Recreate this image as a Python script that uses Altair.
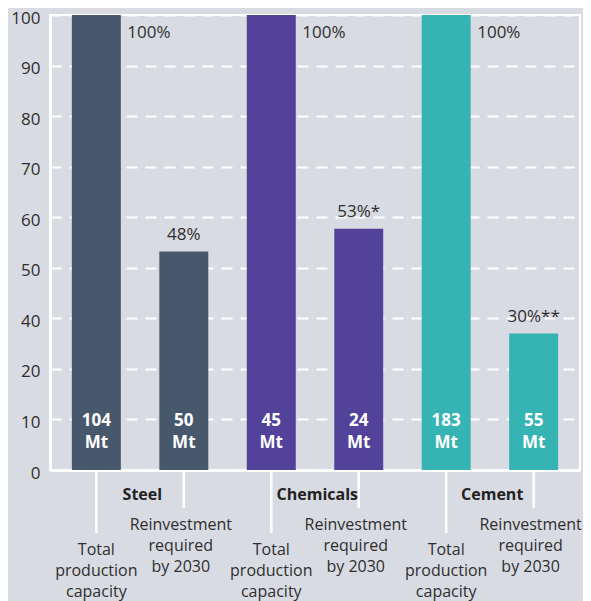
import json
import altair as alt
import pandas as pd

# ---- data ----
sectors = ["Steel", "Steel", "Chemicals", "Chemicals", "Cement", "Cement"]
kinds = ["total", "reinvest", "total", "reinvest", "total", "reinvest"]
shares = [100, 48, 100, 53, 100, 30]
share_labels = ["100%", "48%", "100%", "53%*", "100%", "30%**"]
volumes = [104, 50, 45, 24, 183, 55]
volume_unit = "Mt"
kind_texts = {
    "total": "Total\nproduction\ncapacity",
    "reinvest": "Reinvestment\nrequired\nby 2030",
}
sector_order = ["Steel", "Chemicals", "Cement"]
sector_colors = ["#47586c", "#53429a", "#36b4b4"]
y_tick_labels = ["0", "10", "20", "40", "50", "60", "70", "80", "90", "100"]

df = pd.DataFrame({
    "sector": sectors,
    "kind": kinds,
    "share": shares,
    "share_label": share_labels,
    "volume": volumes,
})
df["key"] = df["sector"] + " " + df["kind"]
df["vol_text"] = [f"{v}\n{volume_unit}" for v in volumes]
df["kind_text"] = df["kind"].map(kind_texts)

FONT = "Open Sans"
TXT = "#2e2e2e"
n = len(y_tick_labels) - 1
tick_vals = [i * 100 / n for i in range(n + 1)]
label_expr = f"{json.dumps(y_tick_labels)}[round(datum.value*{n}/100)]"

x = alt.X(
    "key:N",
    sort=list(df["key"]),
    scale=alt.Scale(paddingInner=0.44, paddingOuter=0.25),
    axis=alt.Axis(labels=False, ticks=False, title=None, domainColor="white",
                  domainWidth=3, grid=False),
)
y = alt.Y(
    "share:Q",
    scale=alt.Scale(domain=[0, 100], nice=False),
    axis=alt.Axis(values=tick_vals, labelExpr=label_expr, title=None, ticks=False,
                  domainColor="white", domainWidth=3, gridColor="white",
                  gridDash=[11, 8], gridWidth=2, labelFontSize=17,
                  labelColor=TXT, labelPadding=10, labelFont=FONT, labelOffset=3),
)
color = alt.Color("sector:N", scale=alt.Scale(domain=sector_order, range=sector_colors),
                  legend=None)

base = alt.Chart(df)

bars = base.mark_bar().encode(x=x, y=y, color=color)

total_pct = base.transform_filter("datum.kind == 'total'").mark_text(
    align="left", baseline="middle", dx=31, dy=18, fontSize=17, font=FONT, color=TXT
).encode(x=x, y="share:Q", text="share_label:N")

reinv_pct = base.transform_filter("datum.kind == 'reinvest'").mark_text(
    align="center", baseline="alphabetic", dy=-12, fontSize=17, font=FONT, color=TXT
).encode(x=x, y="share:Q", text="share_label:N")

vol = base.mark_text(
    align="center", baseline="middle", fontSize=17, font=FONT, fontWeight="bold",
    color="white", lineBreak="\n", lineHeight=22
).encode(x=x, y=alt.value(406), text="vol_text:N")

rule_total = base.transform_filter("datum.kind == 'total'").mark_rule(
    color="white", strokeWidth=2.5
).encode(x=x, y=alt.value(456), y2=alt.value(518))

rule_reinv = base.transform_filter("datum.kind == 'reinvest'").mark_rule(
    color="white", strokeWidth=2.5
).encode(x=x, y=alt.value(456), y2=alt.value(493))

sector_lbl = base.transform_filter("datum.kind == 'total'").mark_text(
    align="center", baseline="middle", dx=46, fontSize=16, font=FONT,
    fontWeight="bold", color="#222222"
).encode(x=x, y=alt.value(480), text="sector:N")

total_txt = base.transform_filter("datum.kind == 'total'").mark_text(
    align="center", baseline="top", fontSize=16, font=FONT, color=TXT,
    lineBreak="\n", lineHeight=21
).encode(x=x, y=alt.value(527), text="kind_text:N")

reinv_txt = base.transform_filter("datum.kind == 'reinvest'").mark_text(
    align="center", baseline="top", dx=-3, fontSize=16, font=FONT, color=TXT,
    lineBreak="\n", lineHeight=21
).encode(x=x, y=alt.value(502), text="kind_text:N")

chart = alt.layer(
    bars, total_pct, reinv_pct, vol, rule_total, rule_reinv, sector_lbl, total_txt, reinv_txt
).properties(
    width=530, height=455,
    padding={"left": 42, "top": 7, "right": 3, "bottom": 131},
    autosize="none",
    background="#d9dbe2",
).configure_view(stroke="white", strokeWidth=2)

chart.save("out.html", embed_options={"renderer": "svg", "actions": False})
